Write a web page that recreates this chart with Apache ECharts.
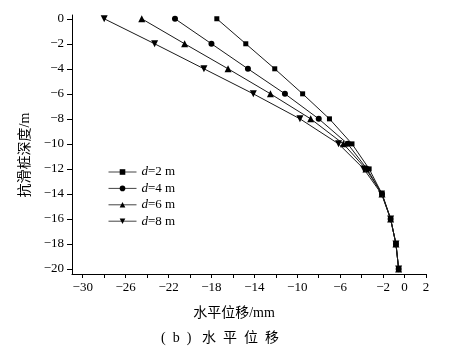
<!DOCTYPE html>
<html><head><meta charset="utf-8">
<script src="https://cdn.jsdelivr.net/npm/echarts@6/dist/echarts.min.js"></script>
<style>html,body{margin:0;padding:0;background:#fff}#c{width:454px;height:356px}</style>
</head><body><div id="c"></div>
<script>
var depths = [0, -2, -4, -6, -8, -10, -12, -14, -16, -18, -20];
var d2 = [-17.5, -14.8, -12.1, -9.5, -7.0, -4.9, -3.3, -2.1, -1.3, -0.8, -0.55];
var d4 = [-21.4, -18.0, -14.6, -11.15, -8.0, -5.3, -3.5, -2.1, -1.3, -0.8, -0.55];
var d6 = [-24.5, -20.5, -16.45, -12.5, -8.75, -5.7, -3.6, -2.1, -1.3, -0.8, -0.55];
var d8 = [-28.0, -23.3, -18.7, -14.1, -9.75, -6.15, -3.8, -2.15, -1.3, -0.8, -0.55];
var seriesNames = ['d=2 m', 'd=4 m', 'd=6 m', 'd=8 m'];
var xTickValues = [-30,-28,-26,-24,-22,-20,-18,-16,-14,-12,-10,-8,-6,-4,-2,0,2];
var xLabelValues = [-30,-26,-22,-18,-14,-10,-6,-2,0,2];
var yTickValues = [0,-2,-4,-6,-8,-10,-12,-14,-16,-18,-20];
var xAxisName = '水平位移/mm';
var yAxisName = '抗滑桩深度/m';
var caption = '(  b  )   水  平  位  移';

var FONT = '"Liberation Serif", "Noto Sans CJK SC", serif';
function pairs(xs){ return xs.map(function(v,i){ return [v, depths[i]]; }); }
var symbols = [
  {symbol:'rect', size:5, rot:0},
  {symbol:'circle', size:6, rot:0},
  {symbol:'triangle', size:7, rot:0},
  {symbol:'triangle', size:7, rot:180}
];
var vals = [d2, d4, d6, d8];
var series = vals.map(function(arr, i){
  return {
    name: seriesNames[i], type:'line', data: pairs(arr),
    symbol: symbols[i].symbol, symbolSize: symbols[i].size, symbolRotate: symbols[i].rot,
    showAllSymbol: true,
    lineStyle:{color:'#1a1a1a', width:1},
    itemStyle:{color:'#000'},
    z: 2 + i
  };
});
var chart = echarts.init(document.getElementById('c'), null, {renderer:'canvas'});
chart.setOption({
  animation:false,
  backgroundColor:'#fff',
  grid:{left:72, right:28, top:15, bottom:82, containLabel:false},
  xAxis:{
    type:'value', min:-31, max:2,
    axisLine:{show:true, onZero:false, lineStyle:{color:'#000', width:1}},
    axisTick:{show:true, inside:false, length:4, customValues:xTickValues, lineStyle:{color:'#000'}},
    axisLabel:{customValues:xLabelValues, margin:7, color:'#000', fontSize:13, fontFamily:FONT,
      formatter:function(v){ return v < 0 ? '\u2212' + Math.abs(v) : String(v); }},
    splitLine:{show:false}
  },
  yAxis:{
    type:'value', min:-20.4, max:0.3,
    axisLine:{show:true, onZero:false, lineStyle:{color:'#000', width:1}},
    axisTick:{show:true, inside:false, length:5, customValues:yTickValues, lineStyle:{color:'#000'}},
    axisLabel:{customValues:yTickValues, margin:8, color:'#000', fontSize:13, fontFamily:FONT,
      formatter:function(v){ return v < 0 ? '\u2212' + Math.abs(v) : String(v); }},
    splitLine:{show:false}
  },
  legend:{
    data: seriesNames, orient:'vertical', left:103, top:160,
    itemWidth:28, itemHeight:7, itemGap:2.4,
    textStyle:{fontSize:13, fontFamily:FONT, color:'#000', lineHeight:14,
      rich:{i:{fontStyle:'italic', fontSize:13, lineHeight:14, fontFamily:FONT, color:'#000'}, n:{fontSize:13, lineHeight:14, fontFamily:FONT, color:'#000'}}},
    formatter:function(name){ return '{i|d}{n|' + name.slice(1) + '}'; },
    lineStyle:{color:'#444', width:1}
  },
  graphic:[
    {type:'text', x:234, y:313, style:{text:xAxisName, fontSize:14, fontFamily:FONT, fill:'#000', textAlign:'center', textVerticalAlign:'middle'}},
    {type:'text', x:25, y:155, rotation:Math.PI/2, style:{text:yAxisName, fontSize:14, fontFamily:FONT, fill:'#000', textAlign:'center', textVerticalAlign:'middle'}},
    {type:'text', x:220, y:338, style:{text:caption, fontSize:14, fontFamily:FONT, fill:'#000', textAlign:'center', textVerticalAlign:'middle'}}
  ],
  series: series
});
</script></body></html>
